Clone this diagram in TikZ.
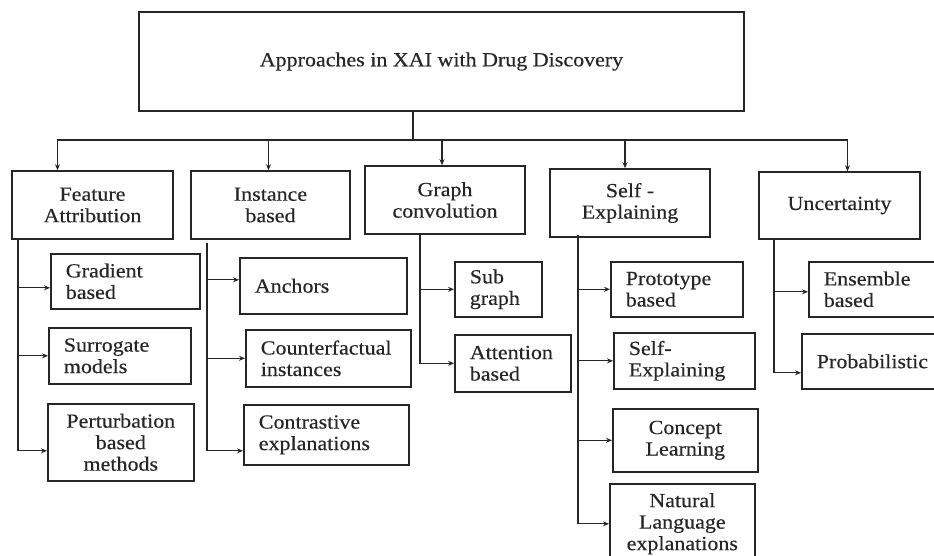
\documentclass[tikz,border=0pt]{standalone}
\usepackage{fontspec}
\setmainfont[FakeStretch=1.1, FakeBold=0.4]{Liberation Serif}
\usetikzlibrary{arrows.meta, positioning}

\begin{document}
\begin{tikzpicture}[
    x=1pt, y=-1pt, black!85,
    font=\fontsize{20}{21.5}\selectfont,
    line width=1.3pt,
    box/.style={rectangle, draw, line width=1.6pt, align=center, inner sep=2pt},
    leaf/.style={box, anchor=north west, align=left, inner xsep=15pt},
    cleaf/.style={box, anchor=north west},
    arrow/.style={->, >={Stealth[length=6pt, width=5pt]}}
]
\clip (0,0) rectangle (934,555);

% root and the five families
\node[box, minimum width=605pt, minimum height=99pt] (root) at (441.5,61.5) {Approaches in XAI with Drug Discovery};
\node[box, minimum width=161pt, minimum height=68pt] (feat) at (92.5,205) {Feature\\Attribution};
\node[box, minimum width=159pt, minimum height=68pt] (inst) at (270.5,205) {Instance\\based};
\node[box, minimum width=160pt, minimum height=68pt] (graph) at (445,200) {Graph\\convolution};
\node[box, minimum width=160pt, minimum height=68pt] (self) at (630,203) {Self -\\Explaining};
\node[box, minimum width=161pt, minimum height=67pt] (unc) at (839.5,205.5) {Uncertainty};

% methods under each family
\node[leaf, text width=119pt, minimum height=55pt] (grad) at (50,253) {Gradient\\based};
\node[leaf, text width=112pt, minimum height=56pt] (surr) at (48,327) {Surrogate\\models};
\node[cleaf, minimum width=146pt, minimum height=77pt] (pert) at (47,403) {Perturbation\\based\\methods};

\node[leaf, text width=137pt, minimum height=56pt] (anch) at (239,257) {Anchors};
\node[leaf, text width=135pt, minimum height=57pt] (cfact) at (245,329) {Counterfactual\\instances};
\node[leaf, text width=135pt, minimum height=60pt] (contr) at (243,404) {Contrastive\\explanations};

\node[leaf, text width=57pt, minimum height=55pt] (subg) at (454,261) {Sub\\graph};
\node[leaf, text width=86pt, minimum height=57pt] (attn) at (454,334) {Attention\\based};

\node[leaf, text width=102pt, minimum height=55pt] (proto) at (610,261) {Prototype\\based};
\node[leaf, text width=111pt, minimum height=56pt] (selfx) at (613,332) {Self-\\Explaining};
\node[cleaf, minimum width=145pt, minimum height=63pt] (conc) at (612,408) {Concept\\Learning};
\node[cleaf, minimum width=145pt, minimum height=80pt] (natl) at (609,483) {Natural\\Language\\explanations};

\node[leaf, text width=110pt, minimum height=55pt] (ens) at (808,261) {Ensemble\\based};
\node[leaf, text width=116pt, minimum height=55pt] (prob) at (801,333) {Probabilistic};

% root to families
\coordinate (hub) at (413,140);
\draw (root.south -| hub) -- (hub);
\draw[arrow] (hub) -| ([xshift=-35pt]feat.north);
\draw[arrow] (hub) -| ([xshift=-2pt]inst.north);
\draw[arrow] (hub) -| ([xshift=-3pt]graph.north);
\draw[arrow] (hub) -| ([xshift=-5pt]self.north);
\draw[arrow] (hub) -| ([xshift=8pt]unc.north);

% trunks down the left of each family
\coordinate (featT) at (18,239);
\coordinate (instT) at (207,243);
\coordinate (graphT) at (420,234);
\coordinate (selfT) at (578,235);
\coordinate (uncT) at (774,239);

\draw[arrow] (featT) |- ([yshift=-6.5pt]grad.west);
\draw[arrow] (featT) |- (surr.west);
\draw[arrow] (featT) |- ([yshift=-8.5pt]pert.west);

\draw[arrow] (instT) |- ([yshift=6pt]anch.west);
\draw[arrow] (instT) |- (cfact.west);
\draw[arrow] (instT) |- ([yshift=-16pt]contr.west);

\draw[arrow] (graphT) |- (subg.west);
\draw[arrow] (graphT) |- (attn.west);

\draw[arrow] (selfT) |- (proto.west);
\draw[arrow] (selfT) |- (selfx.west);
\draw[arrow] (selfT) |- (conc.west);
\draw[arrow] (selfT) |- (natl.west);

\draw[arrow] (uncT) |- ([yshift=-2.5pt]ens.west);
\draw[arrow] (uncT) |- ([yshift=-11.5pt]prob.west);
\end{tikzpicture}
\end{document}
